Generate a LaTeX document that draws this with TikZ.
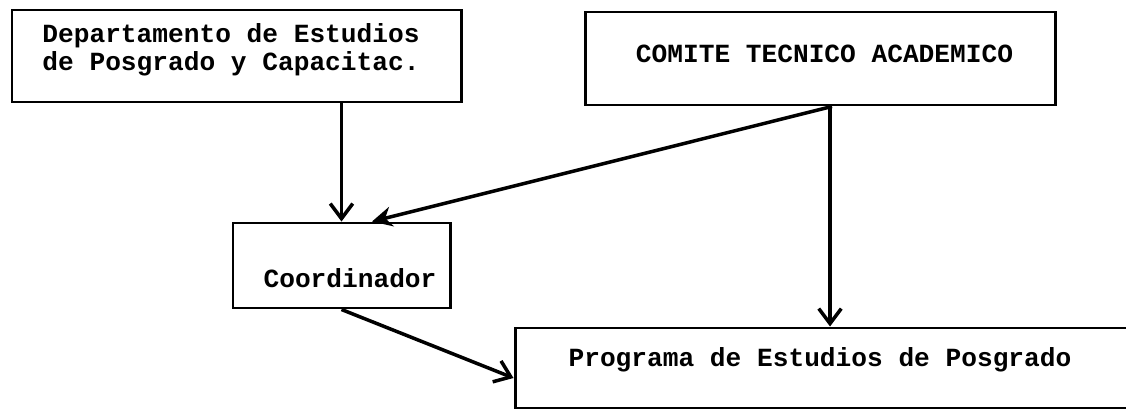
\documentclass[tikz,border=0pt]{standalone}
\usepackage{fontspec}
\setmainfont{Liberation Mono}
\usetikzlibrary{arrows.meta}

\begin{document}
\begin{tikzpicture}
        % Define styles
        \tikzstyle{box}=[rectangle, draw, line width=1.7pt]
        \tikzstyle{lbl}=[font=\fontsize{14.9}{15.9}\selectfont\bfseries, align=center, inner sep=0pt]
        \tikzstyle{arrow}=[-{Straight Barb[length=3mm, width=4.5mm]}, line width=2pt]

        \useasboundingbox (0,0) rectangle (22.52,8.22);

        % Departamento (top left)
        \node[box, minimum width=8.98cm, minimum height=1.84cm] (dept) at (4.73,7.10) {};
        \node[lbl] (dept-t) at (4.62,7.23) {Departamento de Estudios\\de Posgrado y Capacitac.};

        % Comite (top right)
        \node[box, minimum width=9.40cm, minimum height=1.86cm] (comite) at (16.40,7.05) {};
        \node[lbl, anchor=base] (comite-t) at (16.49,6.96) {COMITE TECNICO ACADEMICO};

        % Coordinador
        \node[box, minimum width=4.34cm, minimum height=1.70cm] (coord) at (6.83,2.91) {};
        \node[lbl, anchor=base] (coord-t) at (7.00,2.48) {Coordinador};

        % Programa (open on the right)
        \node[box, minimum width=12.40cm, minimum height=1.60cm] (prog) at (16.50,0.86) {};
        \node[lbl, anchor=base] (prog-t) at (16.40,0.90) {Programa de Estudios de Posgrado};

        % Arrows
        \draw[arrow] (dept.south -| coord.north) -- (coord.north);
        \draw[arrow, -{Stealth[length=4mm, width=4mm]}] ([xshift=0.24cm]comite.south) -- ([xshift=0.61cm]coord.north);
        \draw[arrow] ([xshift=0.2cm]comite.south) -- ([xshift=0.2cm]comite.south |- prog.north);
        \draw[arrow] (coord.south) -- ([yshift=-0.2cm]prog.west);

\end{tikzpicture}
\end{document}
